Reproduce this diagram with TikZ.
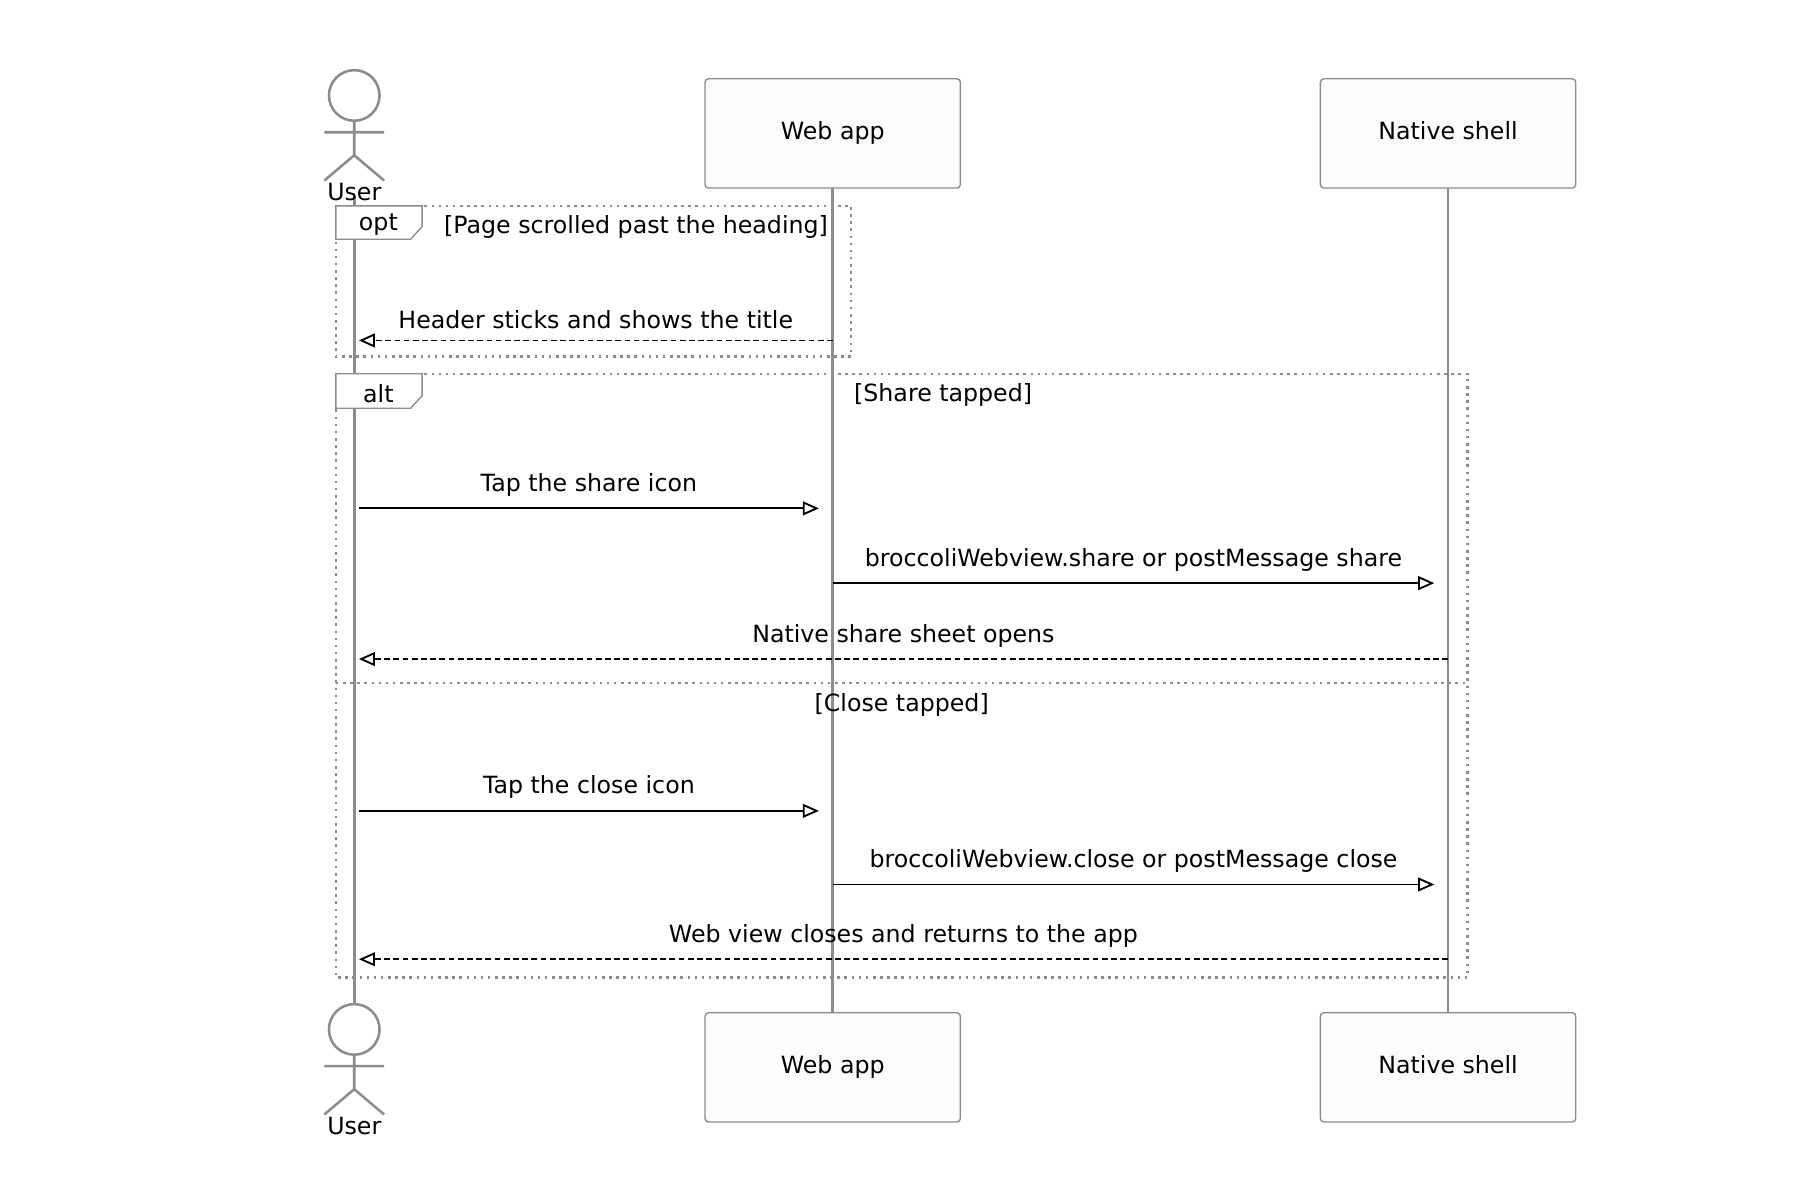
\documentclass[tikz,border=0pt]{standalone}
\usepackage{fontspec}
\setmainfont{DejaVu Sans}
\usetikzlibrary{arrows.meta,positioning}
\tikzset{
    every node/.style={font=\fontsize{10.3pt}{12pt}\selectfont},
    box node/.style={draw=black!45, line width=0.6pt, rounded corners=1.5pt, fill=black!1,
        minimum width=111pt, minimum height=47.5pt, text height=7.5pt, text depth=2pt},
    life line/.style={draw=black!45, line width=1.1pt},
    frame line/.style={draw=black!45, line width=1.1pt, dotted},
    msg/.style={line width=0.8pt, -{Triangle[open,length=7pt,width=6pt]}},
    reply/.style={msg, dashed, dash pattern=on 2.5pt off 1.5pt},
    msg label/.style={above=1.5pt}
}
\newcommand{\stickman}[2]{%
    \draw[life line, fill=white] (#1,#2+52) circle (11pt);
    \draw[life line] (#1,#2+74) -- (#1,#2+104)
        (#1-26,#2+84) -- (#1+26,#2+84)
        (#1-26,#2+126) -- (#1,#2+104) -- (#1+26,#2+126);}
\begin{document}
\begin{tikzpicture}[x=0.5pt,y=-0.5pt]
    \useasboundingbox (0,0) rectangle (1565,1043);
    % lifelines
    \draw[life line] (308,170) -- (308,872);
    \draw[life line] (724,163) -- (724,880);
    \draw[life line] (1259,163) -- (1259,880);
    % participants
    \stickman{308}{31}
    \node (usertop) at (308,167) {User};
    \stickman{308}{843}
    \node (userbot) at (308,979) {User};
    \node[box node] (webtop) at (724,116) {Web app};
    \node[box node] (webbot) at (724,928) {Web app};
    \node[box node] (nattop) at (1259,116) {Native shell};
    \node[box node] (natbot) at (1259,928) {Native shell};
    % anchors on lifelines
    \foreach \n/\y in {a/296,b/442,c/507,d/573,e/705,f/769,g/834} {
        \coordinate (u\n) at (312,\y);
        \coordinate (w\n) at (724,\y);
        \coordinate (n\n) at (1259,\y);
    }
    % opt frame
    \draw[frame line] (292,179) rectangle (740,310);
    \draw[frame line, solid, line width=0.6pt, fill=white] (292,179) -- (367,179) -- (367,197) -- (357,208) -- (292,208) -- cycle;
    \node (optlbl) at (329,195) {opt};
    \node (optcond) at (553,197) {[Page scrolled past the heading]};
    \draw[reply] (wa) -- node[msg label] {Header sticks and shows the title} (ua);
    % alt frame
    \draw[frame line] (292,325) rectangle (1276,850);
    \draw[frame line] (292,594) -- (1276,594);
    \draw[frame line, solid, line width=0.6pt, fill=white] (292,325) -- (367,325) -- (367,344) -- (357,355) -- (292,355) -- cycle;
    \node (altlbl) at (329,342) {alt};
    \node (altcond1) at (820,343) {[Share tapped]};
    \node (altcond2) at (784,613) {[Close tapped]};
    \draw[msg] (ub) -- node[msg label] {Tap the share icon} ([xshift=-6]wb);
    \draw[msg] (wc) -- node[msg label] {broccoliWebview.share or postMessage share} ([xshift=-6]nc);
    \draw[reply] (nd) -- node[msg label] {Native share sheet opens} (ud);
    \draw[msg] (ue) -- node[msg label] {Tap the close icon} ([xshift=-6]we);
    \draw[msg] (wf) -- node[msg label] {broccoliWebview.close or postMessage close} ([xshift=-6]nf);
    \draw[reply] (ng) -- node[msg label] {Web view closes and returns to the app} (ug);
\end{tikzpicture}
\end{document}
